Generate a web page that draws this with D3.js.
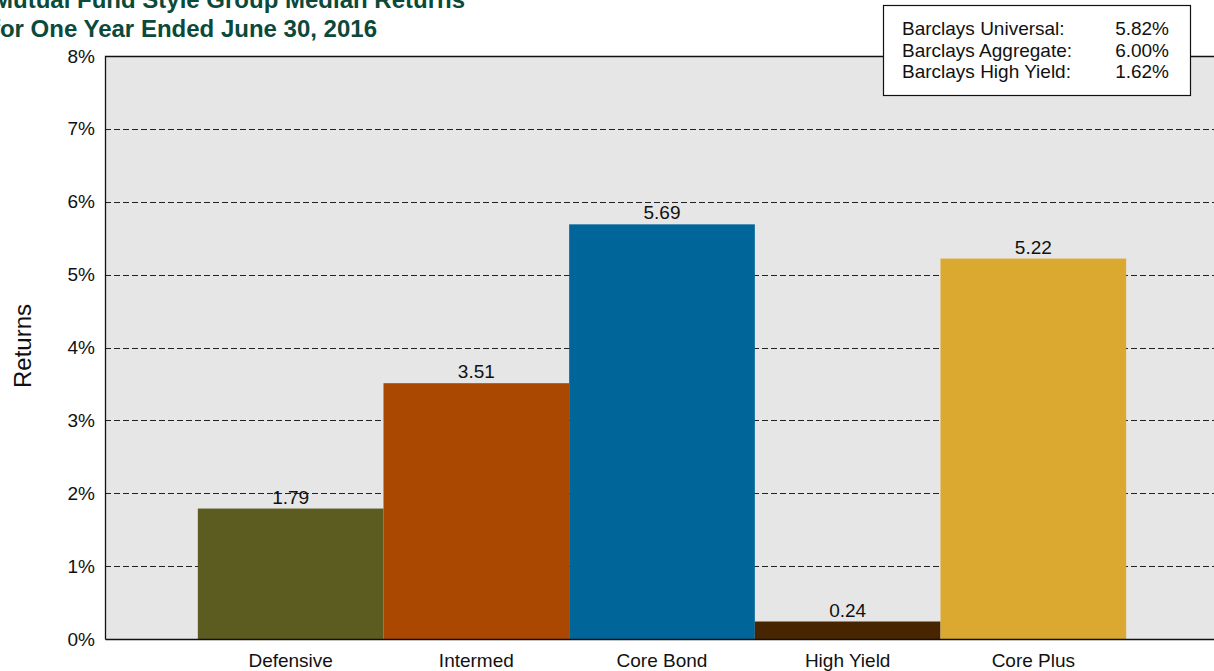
<!DOCTYPE html>
<html>
<head>
<meta charset="utf-8">
<script src="https://cdn.jsdelivr.net/npm/d3@7"></script>
<style>
  html, body { margin: 0; padding: 0; background: #ffffff; }
  svg { display: block; font-family: "Liberation Sans", Arial, sans-serif; }
</style>
</head>
<body>
<svg id="chart" width="1214" height="671"></svg>
<script>
// ---- data ----
const categories = ["Defensive", "Intermed", "Core Bond", "High Yield", "Core Plus"];
const returns = [1.79, 3.51, 5.69, 0.24, 5.22];
const barColors = ["#5c5c20", "#aa4700", "#006599", "#472500", "#dba92f"];
const yTicks = [0, 1, 2, 3, 4, 5, 6, 7, 8];
const titleLines = ["Mutual Fund Style Group Median Returns", "for One Year Ended June 30, 2016"];
const legendLabels = ["Barclays Universal:", "Barclays Aggregate:", "Barclays High Yield:"];
const legendValues = ["5.82%", "6.00%", "1.62%"];
const yLabel = "Returns";

// ---- layout ----
const svg = d3.select("#chart");
const pLeft = 105, pRight = 1219, pTop = 56, pBottom = 639;
const fs = 19;

const x = d3.scaleBand().domain(categories).range([pLeft, pRight]).paddingInner(0).paddingOuter(0.5);
const y = d3.scaleLinear().domain([0, 8]).range([pBottom, pTop]);

// plot background
svg.append("rect")
  .attr("x", pLeft).attr("y", pTop)
  .attr("width", pRight - pLeft).attr("height", pBottom - pTop)
  .attr("fill", "#e6e6e6");

// gridlines
svg.append("g").selectAll("line")
  .data(yTicks.filter(d => d > 0 && d < 8))
  .join("line")
  .attr("x1", pLeft).attr("x2", pRight)
  .attr("y1", d => Math.round(y(d)) + 0.5).attr("y2", d => Math.round(y(d)) + 0.5)
  .attr("stroke", "#222").attr("stroke-width", 1)
  .attr("stroke-dasharray", "6,3");

// bars
svg.append("g").selectAll("rect")
  .data(categories)
  .join("rect")
  .attr("x", d => x(d))
  .attr("width", x.bandwidth())
  .attr("y", (d, i) => y(returns[i]))
  .attr("height", (d, i) => y(0) - y(returns[i]))
  .attr("fill", (d, i) => barColors[i]);

// value labels
svg.append("g").selectAll("text")
  .data(categories)
  .join("text")
  .attr("x", d => x(d) + x.bandwidth() / 2)
  .attr("y", (d, i) => y(returns[i]) - 5)
  .attr("text-anchor", "middle")
  .attr("font-size", fs)
  .attr("fill", "#111")
  .text((d, i) => returns[i].toFixed(2));

// plot frame (left, top, bottom)
svg.append("path")
  .attr("d", `M${pLeft + 0.5},${pBottom + 0.5}V${pTop + 0.5}H${pRight}M${pLeft + 0.5},${pBottom + 0.5}H${pRight}`)
  .attr("fill", "none").attr("stroke", "#111").attr("stroke-width", 1.3);

// y axis
const yAxis = svg.append("g")
  .attr("transform", `translate(${pLeft},0)`)
  .call(d3.axisLeft(y).tickValues(yTicks).tickFormat(d => d + "%").tickSize(0).tickPadding(10));
yAxis.select(".domain").remove();
yAxis.selectAll("text").attr("font-size", fs).attr("fill", "#111").attr("font-family", "Liberation Sans, Arial, sans-serif");

// x axis
const xAxis = svg.append("g")
  .attr("transform", `translate(0,${pBottom})`)
  .call(d3.axisBottom(x).tickSize(0).tickPadding(15));
xAxis.select(".domain").remove();
xAxis.selectAll("text").attr("font-size", fs).attr("fill", "#111").attr("font-family", "Liberation Sans, Arial, sans-serif");

// y label
svg.append("text")
  .attr("transform", "translate(31,346) rotate(-90)")
  .attr("text-anchor", "middle")
  .attr("font-size", 24)
  .attr("fill", "#111")
  .text(yLabel);

// title (clipped at left like the reference)
const titleEnds = [465, 377];
const titleBaselines = [8, 37];
svg.append("g").selectAll("text")
  .data(titleLines)
  .join("text")
  .attr("x", (d, i) => titleEnds[i])
  .attr("y", (d, i) => titleBaselines[i])
  .attr("text-anchor", "end")
  .attr("font-size", 24)
  .attr("font-weight", "bold")
  .attr("fill", "#0b4a3b")
  .text(d => d);

// legend box
const lg = svg.append("g");
lg.append("rect")
  .attr("x", 883.5).attr("y", 5.5)
  .attr("width", 307).attr("height", 90)
  .attr("fill", "#fff").attr("stroke", "#111").attr("stroke-width", 1.2);
lg.selectAll("text.lab")
  .data(legendLabels)
  .join("text").attr("class", "lab")
  .attr("x", 902).attr("y", (d, i) => 35 + i * 21.5)
  .attr("font-size", fs).attr("fill", "#111")
  .text(d => d);
lg.selectAll("text.val")
  .data(legendValues)
  .join("text").attr("class", "val")
  .attr("x", 1169).attr("y", (d, i) => 35 + i * 21.5)
  .attr("text-anchor", "end")
  .attr("font-size", fs).attr("fill", "#111")
  .text(d => d);
</script>
</body>
</html>
